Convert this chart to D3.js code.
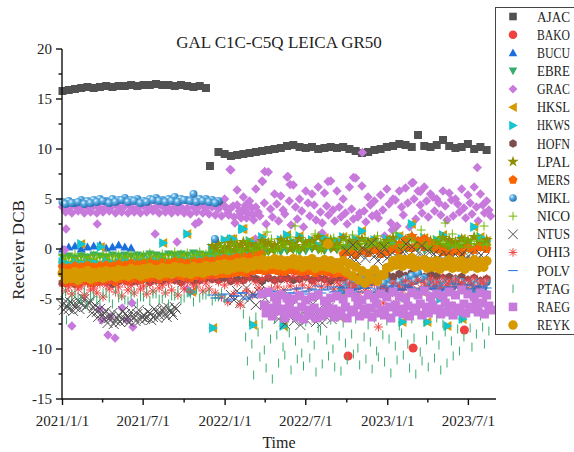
<!DOCTYPE html>
<html>
<head>
<meta charset="utf-8">
<script src="https://d3js.org/d3.v7.min.js"></script>
<style>
  body { margin: 0; background: #fff; }
  text { font-family: "Liberation Serif", "DejaVu Serif", serif; fill: #222; }
</style>
</head>
<body>
<script>
// station names, legend order = drawing order
const STATIONS = ["AJAC","BAKO","BUCU","EBRE","GRAC","HKSL","HKWS","HOFN","LPAL","MERS","MIKL","NICO","NTUS","OHI3","POLV","PTAG","RAEG","REYK"];
const COLORS = ["#515151","#f14040","#1a6fdf","#37ad6b","#c879dc","#d69a00","#14c6d2","#7d4e4e","#8e8e00","#fb6501","#3b98d6","#6fb802","#515151","#f14040","#1a6fdf","#37ad6b","#c879dc","#d69a00"];
const SHAPES = ["square","circle","up","down","diamond","left","right","hexagon","star","pentagon","ball","plus","cross","asterisk","hline","vline","square","circle"];
const SIZES  = [4, 4.5, 4.5, 4.5, 4.7, 5, 5, 4.5, 5.5, 5, 4, 4.5, 5, 4.5, 5, 4.5, 4.5, 5];

const X_TICKS = ["2021-01-01","2021-07-01","2022-01-01","2022-07-01","2023-01-01","2023-07-01"];
const X_MINOR = ["2021-04-01","2021-10-01","2022-04-01","2022-10-01","2023-04-01"];
const Y_TICKS = [-15,-10,-5,0,5,10,15,20];

// DCB values (ns), regular steps from a start date
const AJAC_1 = [15.8,15.9,16.0,16.1,16.2,16.1,16.2,16.3,16.2,16.3,16.3,16.4,16.3,16.4,16.4,16.5,16.4,16.4,16.3,16.4,16.3,16.2,16.3,16.1];
const AJAC_2 = [9.7,9.5,9.3,9.4,9.5,9.6,9.7,9.8,9.9,10.0,10.1,10.3,10.4,10.2,10.1,10.2,10.0,10.1,10.2,10.1,10.2,10.0,9.8,9.6,9.7,9.9,10.0,10.2,10.3,10.5,10.4,10.2,11.4,10.3,10.2,10.4,10.9,10.3,10.1,10.2,10.5,10.0,10.2,9.9];
const BUCU_1 = [0.0,0.2,0.3,0.0,0.2,0.3,0.4,0.1,0.2,0.4,0.2,0.1];
const EBRE_1 = [-0.8,-0.7,-0.9,-0.7,-0.8,-0.6,-0.7,-0.8,-0.6,-0.7,-0.6,-0.7,-0.6,-0.7,-0.5,-0.6,-0.7,-0.5,-0.6,-0.5,-0.6,-0.4,-0.5,-0.6,-0.5,-0.4,-0.5,-0.3,-0.4,-0.5,-0.3,-0.2,-0.4,-0.3,-0.2,-0.3,-0.2,-0.1,-0.3,-0.2,0.0,-0.1,-0.2,0.0,-0.1,0.1,-0.1,0.0,-0.2,-0.1,0.0,0.1,-0.1,0.0,0.2,0.1,0.0,0.1,-0.1,0.0,0.1,0.2,0.0,0.1,0.2,0.1,0.0,0.2,0.1];
const GRAC_1A = [4.2,4.1,4.3,4.2,4.2,4.3,4.1,4.2,4.3,4.2,4.3,4.2,4.1,4.3,4.2,4.2,4.3,4.1,4.2,4.2,4.1,4.2,4.3,4.1,4.2,4.0,4.3,4.1,4.4,4.0,4.3,4.2];
const GRAC_1B = [3.7,3.6,3.8,3.6,3.7,3.6,3.7,3.8,3.6,3.7,3.6,3.7,3.6,3.7,3.8,3.6,3.7,3.6,3.7,3.6,3.5,3.7,3.6,3.5,3.4,3.3,3.6,3.2,3.5,3.1,3.4];
const GRAC_HI = [5.0,7.9,5.9,5.2,4.8,6.0,6.8,7.7,5.5,5.3,7.2,6.4,5.0,5.8,5.5,6.2,5.6,6.8,5.8,5.0,6.2,7.1,6.3,5.2,4.8,5.4,6.0,5.0,5.8,6.1,6.6,5.8,6.2,5.5,5.0,5.8,5.6,5.0,6.0,5.4,6.2,5.5,4.8];
const GRAC_MID = [4.0,4.3,3.8,4.4,4.1,3.7,4.6,4.0,4.5,3.9,4.8,4.2,3.8,4.6,4.4,3.7,4.3,3.9,4.2,3.6,4.0,3.2,3.8,4.4,3.5,3.9,4.5,4.9,4.2,4.6,5.0,4.4,4.8,5.2,4.6,4.3,4.9,4.5,4.1,4.6,4.2,4.4,3.9];
const GRAC_LO = [3.4,2.6,3.1,3.6,2.9,3.3,2.5,3.2,2.8,3.5,2.4,3.0,2.2,3.3,2.9,2.6,3.4,2.8,3.2,2.5,3.0,3.6,2.7,3.3,3.1,1.3,2.6,2.3,3.4,2.2,3.0,3.6,3.2,3.8,3.4,2.9,3.3,3.7,3.1,3.5,2.8,3.6,3.3];
const HKWS_1A = [-1.3,-1.5,-1.2,-1.4,-1.1,-1.3,-1.5,-1.2,-1.4,-1.3,-1.1,-1.4,-1.2,-1.3,-1.1,-1.2,-1.0,-1.3,-1.1,-0.9,-1.2,-1.0,-0.8,-1.1,-0.9,-0.7,-0.6,-0.8,-0.5,-0.7,-0.4,-0.6];
const HKWS_1B = [-1.8,-1.7,-1.9,-1.6,-1.8,-1.7,-1.9,-1.6,-1.8,-1.7,-1.6,-1.8,-1.7,-1.5,-1.7,-1.6,-1.4,-1.6,-1.5,-1.3,-1.5,-1.4,-1.2,-1.4,-1.3,-1.1,-1.2,-1.0,-1.1,-0.9,-1.0];
const HKWS_HI = [0.9,1.0,0.3,2.0,0.8,0.4,1.2,0.5,0.2,0.9,1.4,0.7,1.3,0.6,0.9,0.4,1.1,0.6,0.8,1.2,0.5,1.0,1.8,0.6,0.9,0.3,1.0,0.5,1.3,0.7,2.5,0.8,1.1,0.4,0.9,1.4,0.6,0.5,1.0,0.7,2.2,1.2,0.8];
const HOFN_1 = [-3.4,-3.2,-3.5,-3.3,-3.1,-3.4,-3.2,-3.3,-3.5,-3.2,-3.1,-3.3,-3.2,-3.0,-3.3,-3.1,-3.2,-3.0,-3.1,-3.3,-3.0,-3.2,-3.1,-2.9,-3.0,-3.1,-2.9,-3.2,-3.0,-3.1,-2.8,-3.0,-3.2,-2.9,-3.1,-3.0,-2.9,-3.1,-3.0,-2.8,-3.1,-2.9,-3.0,-3.2,-2.9,-3.0,-3.1,-2.8,-3.0,-2.9,-3.1,-2.8,-2.6,-2.8,-2.5,-2.7,-2.4,-2.6,-2.8,-2.5,-2.7,-2.9,-2.8,-3.0,-2.8,-3.1,-2.9,-3.2,-3.0];
const LPAL_A = [0.3,0.5,0.2,0.6,0.4,0.7,0.5,0.3,0.8,0.6,0.4,0.9,0.7,0.5,1.0,0.6,0.8,1.2,0.7,0.9,0.5,1.1,0.8,0.6,1.0,0.7,0.9,0.5,0.8,1.1,0.6,0.9,1.3,0.7,1.0,0.8,0.6,1.1,0.9,0.7,1.0,0.8,1.2,0.6,0.9];
const LPAL_B = [0.0,-0.2,0.1,-0.1,0.2,0.0,-0.3,0.1,0.3,-0.1,0.2,0.4,0.0,0.3,0.1,0.5,0.2,0.0,0.4,0.1,0.3,-0.1,0.2,0.4,0.0,0.3,0.1,0.5,0.2,0.0,0.4,0.1,0.3,0.6,0.2,0.0,0.4,0.2,0.5,0.1,0.3,0.0,0.4,0.2];
const MERS_A = [-1.8,-1.9,-1.7,-1.8,-1.6,-1.8,-1.7,-1.6,-1.7,-1.5,-1.6,-1.4,-1.5,-1.4,-1.3,-1.5,-1.3,-1.4,-1.2,-1.3,-1.4,-1.2,-1.3,-1.1,-1.2,-1.0,-0.9,-1.0,-0.8,-0.7,-0.8,-0.6,-0.5];
const MERS_B = [-3.4,-3.3,-3.5,-3.2,-3.4,-3.3,-3.2,-3.1,-3.3,-3.0,-3.2,-3.0,-3.1,-2.9,-2.9,-3.0,-2.8,-2.9,-2.7,-2.8,-2.9,-2.7,-2.8,-2.6,-2.6,-2.5,-2.5,-2.4,-2.3,-2.4,-2.2,-2.1,-2.2,-2.1,-2.2,-2.3,-2.1,-2.2,-2.3,-2.2,-2.4,-2.2,-2.3,-2.5,-2.4,-2.6,-2.8];
const MERS_C = [-0.5,-0.3,-0.6,-0.2,-0.4,-0.1,-0.5,-0.3,0.0,-0.2,0.3,0.1,0.5,0.2,0.6,0.0,-0.3,-0.5,-0.2,-0.4,0.1,-0.1,0.2,0.0];
const MIKL_1A = [4.7,4.8,4.6,4.9,4.8,4.9,5.0,4.8,5.0,4.9,5.1,4.9,5.0,4.8,5.0,5.1,4.9,5.0,5.2,5.0,4.9,5.5,5.0,5.0,4.9,4.8];
const MIKL_1B = [4.5,4.6,4.7,4.5,4.6,4.7,4.8,4.6,4.7,4.9,4.7,4.8,4.6,4.7,4.9,4.8,4.7,4.8,4.7,4.9,4.8,4.7,4.8,4.7,4.6];
const MIKL_2A = [-3.6,-3.4,-3.2,-3.0,-2.7,-2.4,-2.8,-3.2,-3.5,-3.3,-3.0,-2.7,-2.4,-2.9,-3.3,-3.5,-3.2,-3.4,-3.1,-3.3,-3.5,-3.2,-3.4,-3.3];
const MIKL_2B = [-4.0,-3.8,-3.7,-3.5,-3.3,-3.0,-3.4,-3.7,-3.9,-3.8,-3.5,-3.2,-3.0,-3.4,-3.8,-3.9,-3.7,-3.8,-3.6,-3.8,-3.9,-3.7,-3.8];
const NICO_A = [-0.6,-0.8,-0.5,-0.7,-0.9,-0.6,-0.8,-0.5,-0.7,-0.6,-0.8,-0.5,-0.7,-0.6,-0.4,-0.7,-0.5,-0.6,-0.3,-0.5,-0.4,-0.6,-0.3,-0.5,-0.2,-0.4,-0.1,-0.3,0.0,-0.2,0.1,-0.1,0.2,0.0,-0.2,0.3,0.1,0.4,0.0,0.2,0.5,0.1,0.3,0.6,0.2,0.4,0.0,0.3,0.5,0.2,0.4,0.7,0.3,0.5,0.1,0.4,0.8,0.3,0.6,0.2,0.5,0.7,0.3,0.4,0.6,0.2,0.5,0.8,0.4];
const NICO_B = [-1.0,-0.9,-1.1,-0.8,-1.0,-0.9,-0.7,-1.0,-0.8,-0.9,-0.7,-0.9,-0.8,-1.0,-0.7,-0.8,-0.9,-0.6,-0.8,-0.7,-0.9,-0.6,-0.7,-0.5,-0.6,0.3,-0.4,0.5,-0.3,0.8,-0.2,0.4,-0.5,1.0,-0.1,0.6,1.2,-0.2,0.9,0.3,1.5,-0.1,0.7,1.1,0.2,0.9,1.4,0.0,1.0,0.6,1.3,0.2,0.8,1.6,0.4,1.1,0.7,1.9,0.3,0.9,1.2,0.5,1.5,0.2,1.0,0.8,1.3,0.4];
const NTUS_1A = [-5.6,-5.2,-6.0,-5.4,-5.8,-5.1,-5.5,-5.0,-5.6,-5.2,-5.9,-6.3,-6.0,-6.6,-6.2,-6.9,-6.4,-7.2,-6.6,-7.0,-6.5,-6.8,-6.3,-6.9,-6.5,-7.1,-6.6,-6.9,-6.4,-6.8,-6.2,-6.6,-6.1,-6.5,-5.9,-6.3,-5.8];
const NTUS_1B = [-6.1,-5.7,-5.3,-6.2,-5.5,-6.0,-4.9,-5.8,-5.3,-6.4,-5.6,-6.8,-6.5,-7.0,-7.4,-6.8,-7.5,-6.9,-7.3,-6.2,-7.1,-7.3,-6.7,-7.2,-6.1,-6.8,-7.0,-6.3,-7.1,-6.0,-6.9,-6.4,-5.9,-6.8,-6.2,-6.6,-6.0];
const NTUS_2 = [-4.6,-5.1,-4.2,-5.4,-4.8,-3.9,-5.0,-4.5,-5.6,-4.3,-3.6,-4.9];
const NTUS_3 = [-7.0,-6.2,-7.5,-6.6,-5.8,-7.2,-6.8,-7.6,-6.4,-7.1,-6.9,-5.5,-7.3,-6.0,-7.4,-6.7,-5.9,-7.0];
const NTUS_4 = [-0.2,-0.8,0.4,-1.1,-0.5,0.1,-0.9,-0.3,0.6,-0.7,-1.2,-0.4,0.2,-0.9,-0.6,-1.3,-0.8,-1.0,-0.3,0.5,-0.6,0.2,-1.0,-0.4,0.3,-0.8,-0.2,-1.1,-0.5,-0.9,-0.7,-1.2,-0.6,-1.0,-0.8,-1.3,-0.9,-0.5,-1.1,-0.7,-1.2,-0.8,-1.0,-0.6,-0.9];
const OHI3_A = [-3.5,-3.8,-3.3,-3.7,-3.4,-3.9,-3.5,-3.6,-3.2,-3.8,-3.4,-3.6,-3.3,-3.7,-3.5,-3.2,-3.6,-3.4,-3.1,-3.5,-3.3,-3.6,-3.2,-3.4,-3.0,-3.3,-3.6,-3.1,-3.4,-3.2,-2.9,-3.3,-3.0,-2.8,-3.2,-2.9,-3.1,-2.7,-3.0,-2.8,-3.2,-2.9,-3.1,-2.8,-3.3,-3.0,-3.4,-3.6,-3.2,-3.8,-3.5,-3.9,-4.1,-3.4,-3.7,-3.2,-3.5,-3.1,-3.4,-3.0,-3.3,-2.9,-3.2,-3.0,-3.4,-3.1,-2.9,-3.2,-3.0];
const OHI3_B = [-4.2,-4.5,-4.0,-4.6,-4.1,-4.4,-4.8,-4.0,-4.3,-4.7,-4.1,-4.4,-4.0,-4.5,-4.2,-3.9,-4.4,-4.1,-4.6,-4.0,-4.3,-3.8,-4.2,-4.0,-4.4,-4.8,-5.3,-4.5,-5.6,-4.2,-4.6,-3.9,-4.3,-4.0,-3.8,-4.1,-3.7,-4.0,-3.6,-3.9,-3.5,-3.8,-3.6,-4.0,-3.7,-4.1,-3.9,-4.4,-4.2,-4.6,-4.3,-4.0,-4.5,-5.4,-4.1,-3.8,-4.2,-3.9,-4.0,-3.7,-3.9,-3.6,-3.8,-3.5,-3.9,-3.6,-3.8,-3.5];
const POLV_A = [-4.6,-4.9,-4.5,-5.0,-4.7,-4.4,-4.8,-4.5,-4.3,-4.6,-4.2,-4.5,-4.1,-4.4,-3.9,-4.2,-4.0,-3.7,-4.1,-3.8,-4.2,-3.9,-4.3,-4.0,-3.6,-3.9,-4.2,-3.8,-4.1,-3.7,-4.0,-3.6,-3.9,-4.2,-3.8,-4.0,-3.7,-4.1,-3.8,-3.5,-3.9,-3.6,-4.0,-3.7,-3.9];
const POLV_B = [-4.9,-4.6,-5.2,-4.7,-4.4,-5.0,-4.6,-4.8,-4.4,-4.7,-4.3,-4.6,-4.4,-4.0,-4.3,-4.5,-4.1,-4.4,-4.0,-4.3,-3.8,-4.4,-4.1,-4.3,-3.9,-4.4,-4.0,-4.3,-3.9,-4.5,-4.1,-3.8,-4.3,-4.0,-4.4,-3.9,-4.2,-4.0,-4.3,-3.8,-4.1,-4.3,-3.8,-4.2];
const PTAG_1A = [-4.8,-5.3,-4.5,-5.0,-5.6,-4.7,-5.2,-4.4,-5.5,-4.9,-5.1,-4.6,-5.4,-4.8,-5.2,-4.5,-5.0,-5.5,-4.7,-5.1,-4.4,-5.3,-4.9,-4.6,-5.2,-4.8,-5.0];
const PTAG_1B = [-4.3,-4.6,-5.0,-4.2,-4.7,-5.1,-4.4,-4.9,-4.2,-4.6,-5.2,-4.3,-4.8,-4.1,-4.5,-5.0,-4.4,-4.7,-4.2,-4.9,-4.5,-4.1,-4.6,-4.3,-4.8,-4.4];
const PTAG_2A = [-6.5,-7.2,-6.8,-7.5,-6.3,-7.0,-6.6,-7.8,-6.9,-6.4,-7.3,-6.7,-7.9,-6.2,-7.1,-6.8,-7.4,-6.5,-7.0,-6.3,-7.6,-6.9,-6.6,-7.2,-6.4,-7.7,-6.8,-7.0,-6.5,-7.3,-6.1,-6.9,-7.5,-6.6,-6.2,-7.0,-6.4,-6.0,-6.7,-6.3];
const PTAG_2B = [-8.8,-9.5,-8.3,-10.1,-9.0,-8.6,-9.8,-8.4,-9.2,-10.4,-8.9,-9.6,-8.2,-9.1,-10.0,-8.7,-9.4,-8.5,-9.9,-8.8,-9.3,-10.2,-8.6,-9.0,-9.7,-8.4,-9.5,-8.9,-10.3,-9.1,-8.7,-9.6,-8.3,-9.2,-8.0,-8.8,-7.9,-8.5,-7.8,-8.2];
const PTAG_2C = [-11.2,-12.6,-10.8,-11.9,-13.0,-11.4,-10.6,-12.1,-11.0,-11.7,-10.9,-12.3,-11.5,-10.7,-11.8,-12.2,-11.1,-10.5,-11.6,-11.0,-12.0,-10.8,-11.3,-12.4,-11.1,-10.6,-11.9,-12.5,-11.2,-11.8,-10.9,-12.1,-11.4,-10.7,-10.2,null,-9.8,null,-9.5,null];
const RAEG_A = [-4.5,-4.3,-4.8,-4.6,-4.9,-5.0,-4.7,-5.1,-4.8,-4.6,-5.2,-4.9,-4.7,-5.0,-4.4,-4.8,-5.1,-4.6,-4.9,-4.5,-4.8,-4.3,-4.7,-4.9,-4.4,-4.6,-4.2,-4.8,-4.5,-4.7,-4.3,-4.6,-4.1,-4.5,-4.8,-4.4,-4.6];
const RAEG_B = [-5.6,-5.9,-5.4,-6.0,-5.7,-6.2,-5.8,-6.1,-5.9,-6.3,-5.7,-6.0,-6.2,-5.8,-6.1,-5.6,-6.0,-5.9,-5.5,-6.1,-5.8,-5.6,-6.0,-5.7,-5.9,-5.5,-5.8,-5.6,-6.0,-5.4,-5.7,-5.9,-5.5,-5.8,-5.6,-5.4,-5.7];
const RAEG_C = [-6.4,-6.7,-6.2,-6.9,-6.5,-6.8,-7.0,-6.6,-6.9,-6.7,-6.4,-6.8,-6.6,-6.9,-6.3,-6.7,-6.5,-6.8,-6.4,-6.6,-6.9,-6.3,-6.5,-6.7,-6.2,-6.6,-6.4,-6.1,-6.5,-6.3,-6.6,-6.2,-6.4,-6.0,-6.3,-6.5,-6.1];
const REYK_A = [-2.4,-2.5,-2.3,-2.4,-2.2,-2.4,-2.3,-2.2,-2.3,-2.1,-2.2,-2.0,-2.1,-2.0,-1.9,-2.1,-1.9,-2.0,-1.8,-1.9,-2.0,-1.8,-1.9,-1.7,-1.8,-1.6,-1.5,-1.6,-1.4,-1.3,-1.4,-1.2,-1.1,-1.2,-1.0,-1.1,-1.2,-1.0,-1.1,-1.2,-1.0,-1.3,-1.1,-1.2,-1.4,-1.2,-1.5,-1.8,-2.2,-2.5,-2.1,-2.6,-1.9,-1.2,-1.0,-1.1,-0.9,-1.2,-1.1,-1.3,-1.2,-1.4,-1.1,-1.3,-1.2,-1.4,-1.1,-1.3,-1.2];
const REYK_B = [-3.0,-2.9,-3.1,-2.8,-3.0,-2.8,-2.9,-2.7,-2.8,-2.6,-2.7,-2.5,-2.7,-2.5,-2.4,-2.6,-2.4,-2.5,-2.3,-2.4,-2.5,-2.3,-2.4,-2.2,-2.2,-2.0,-2.1,-1.9,-1.8,-1.9,-1.7,-1.6,-1.7,-1.5,-1.6,-1.7,-1.5,-1.6,-1.8,-1.6,-1.9,-1.7,-1.8,-2.0,-1.9,-2.3,-2.7,-3.1,-3.4,-3.0,-3.2,-2.6,-1.8,-1.6,-1.7,-1.5,-1.8,-1.6,-1.9,-1.8,-2.0,-1.7,-1.9,-1.8,-2.0,-1.7,-1.9,-1.8];

// single points [date, value]
const AJAC_PTS = [["2021-11-28",8.3],["2021-12-21",4.6]];
const BAKO_PTS = [["2022-10-04",-10.7],["2023-02-27",-9.9],["2023-06-22",-8.1]];
const GRAC_PTS = [["2021-01-09",2.0],["2021-01-06",-0.1],["2021-01-22",-7.7],["2021-03-20",2.5],["2021-03-26",-6.0],["2021-03-30",-7.1],["2021-04-13",-8.6],["2021-04-18",-6.8],["2021-04-29",-8.9],["2021-05-15",-5.9],["2021-05-26",-7.1],["2021-06-06",-5.4],["2021-06-08",-7.8],["2021-07-28",1.5],["2021-09-15",0.7],["2021-10-08",-4.0],["2021-10-26",2.5],["2021-11-03",2.7],
  ["2022-01-12",7.95],["2022-03-31",7.75],["2022-05-22",7.25],["2022-11-05",9.65],["2023-07-21",8.15],["2022-10-16",7.15],["2022-08-20",6.75],["2022-05-27",6.45],["2022-03-26",6.75],["2023-02-27",6.65],["2023-03-15",5.75],["2022-03-10",1.0],["2022-08-07",1.6],["2023-01-11",1.9]];
const HKWS_PTS = [["2021-02-12",0.5],["2021-03-28",0.2],["2021-08-15",0.6],["2021-10-08",1.5],["2021-12-03",0.1],["2022-01-19",1.0],["2022-02-08",2.0],
  ["2021-10-19",-4.3],["2021-12-05",-7.9],["2022-03-05",-7.6],["2022-05-12",-7.7],["2022-07-16",-4.8],["2022-09-16",-6.8],["2022-09-20",-4.3],["2023-02-03",-7.3],["2023-02-06",-4.8],["2023-03-20",-4.3],["2023-03-31",-7.3],["2023-04-29",-5.0],["2023-05-15",-7.7],["2023-05-18",-5.7],["2023-06-18",-7.0],["2023-07-10",-4.3]];
const MERS_PTS = [["2023-01-27",0.4],["2023-02-10",0.9],["2023-02-24",1.2],["2023-03-10",0.8],["2023-03-24",1.0],["2023-04-07",0.6]];
const MIKL_PTS = [["2021-12-09",1.0]];
const NICO_PTS = [["2022-04-05",1.7],["2022-06-07",2.3],["2023-05-10",2.6],["2023-08-05",2.3]];
const OHI3_PTS = [["2022-12-22",-5.4],["2022-12-11",-7.8]];
const PTAG_PTS = [["2021-01-10",-7.1]];
const REYK_PTS = [["2022-08-20",0.5]];

// [station, first date, step in days, values]
const RUNS = [
  ["AJAC","2021-01-01",14,AJAC_1],["AJAC","2021-12-17",14,AJAC_2],
  ["BUCU","2021-01-01",14,BUCU_1],
  ["EBRE","2021-01-01",14,EBRE_1],
  ["GRAC","2021-01-01",14,GRAC_1A],["GRAC","2021-01-08",14,GRAC_1B],
  ["GRAC","2021-12-31",14,GRAC_HI],["GRAC","2022-01-05",14,GRAC_MID],["GRAC","2022-01-09",14,GRAC_LO],
  ["HKSL","2021-01-01",14,HKWS_1A],["HKSL","2021-01-08",14,HKWS_1B],["HKSL","2021-12-31",14,HKWS_HI],
  ["HKWS","2021-01-01",14,HKWS_1A],["HKWS","2021-01-08",14,HKWS_1B],["HKWS","2021-12-31",14,HKWS_HI],
  ["HOFN","2021-01-01",14,HOFN_1],
  ["LPAL","2021-12-03",14,LPAL_A],["LPAL","2021-12-10",14,LPAL_B],
  ["MERS","2021-01-01",14,MERS_A],["MERS","2021-01-08",14,MERS_B],["MERS","2022-09-23",14,MERS_C],
  ["MIKL","2021-01-01",14,MIKL_1A],["MIKL","2021-01-08",14,MIKL_1B],["MIKL","2022-09-23",14,MIKL_2A],["MIKL","2022-09-30",14,MIKL_2B],
  ["NICO","2021-01-01",14,NICO_A],["NICO","2021-01-08",14,NICO_B],
  ["NTUS","2021-01-01",7,NTUS_1A],["NTUS","2021-01-04",7,NTUS_1B],["NTUS","2022-01-14",7,NTUS_2],["NTUS","2022-05-01",7,NTUS_3],["NTUS","2022-10-01",7,NTUS_4],
  ["OHI3","2021-01-01",14,OHI3_A],["OHI3","2021-01-08",14,OHI3_B],
  ["POLV","2021-12-03",14,POLV_A],["POLV","2021-12-10",14,POLV_B],
  ["PTAG","2021-01-01",14,PTAG_1A],["PTAG","2021-01-08",14,PTAG_1B],
  ["PTAG","2022-02-11",14,PTAG_2A],["PTAG","2022-02-16",14,PTAG_2B],["PTAG","2022-02-20",14,PTAG_2C],
  ["RAEG","2022-03-25",14,RAEG_A],["RAEG","2022-03-30",14,RAEG_B],["RAEG","2022-04-03",14,RAEG_C],
  ["REYK","2021-01-01",14,REYK_A],["REYK","2021-01-08",14,REYK_B]
];
const SINGLES = {AJAC: AJAC_PTS, BAKO: BAKO_PTS, GRAC: GRAC_PTS, HKSL: HKWS_PTS, HKWS: HKWS_PTS, MERS: MERS_PTS,
  MIKL: MIKL_PTS, NICO: NICO_PTS, OHI3: OHI3_PTS, PTAG: PTAG_PTS, REYK: REYK_PTS};

const parse = d3.timeParse("%Y-%m-%d");
const W = 574, H = 452;
const svg = d3.select("body").append("svg").attr("width", W).attr("height", H);

const defs = svg.append("defs");
const grad = defs.append("radialGradient").attr("id", "ball").attr("cx", "35%").attr("cy", "32%").attr("r", "70%");
grad.append("stop").attr("offset", "0%").attr("stop-color", "#eaf6ff");
grad.append("stop").attr("offset", "35%").attr("stop-color", "#5fb1e6");
grad.append("stop").attr("offset", "100%").attr("stop-color", "#1f6fae");

const x = d3.scaleTime().domain([parse("2021-01-01"), parse("2023-09-01")]).range([62.5, 496]);
const y = d3.scaleLinear().domain([-15, 20]).range([399, 49]);

function poly(pts) { return "M" + pts.map(p => p[0].toFixed(2) + "," + p[1].toFixed(2)).join("L") + "Z"; }
function ngon(n, r, a0) {
  return poly(d3.range(n).map(k => [r * Math.cos(a0 + 2 * Math.PI * k / n), r * Math.sin(a0 + 2 * Math.PI * k / n)]));
}
function shapePath(kind, r) {
  switch (kind) {
    case "square": return poly([[-r,-r],[r,-r],[r,r],[-r,r]]);
    case "circle": case "ball": return d3.symbol(d3.symbolCircle, Math.PI * r * r)();
    case "up": return poly([[0,-r],[r,0.8*r],[-r,0.8*r]]);
    case "down": return poly([[0,r],[r,-0.8*r],[-r,-0.8*r]]);
    case "left": return poly([[-r,0],[0.8*r,-r],[0.8*r,r]]);
    case "right": return poly([[r,0],[-0.8*r,-r],[-0.8*r,r]]);
    case "diamond": return poly([[0,-r],[r,0],[0,r],[-r,0]]);
    case "hexagon": return ngon(6, r, Math.PI / 6);
    case "pentagon": return ngon(5, r, -Math.PI / 2);
    case "star": return d3.symbol(d3.symbolStar, r * r * 1.5)();
    case "plus": return `M${-r},0H${r}M0,${-r}V${r}`;
    case "cross": return `M${-r},${-r}L${r},${r}M${r},${-r}L${-r},${r}`;
    case "asterisk": { const d = r * 0.72; return `M${-r},0H${r}M0,${-r}V${r}M${-d},${-d}L${d},${d}M${d},${-d}L${-d},${d}`; }
    case "hline": return `M${-r},0H${r}`;
    case "vline": return `M0,${-r}V${r}`;
  }
}
const LINE_KINDS = new Set(["plus","cross","asterisk","hline","vline"]);
function styleMark(sel, i) {
  const kind = SHAPES[i];
  if (LINE_KINDS.has(kind)) sel.attr("fill", "none").attr("stroke", COLORS[i]).attr("stroke-width", 1);
  else if (kind === "ball") sel.attr("fill", "url(#ball)").attr("stroke", "none");
  else sel.attr("fill", COLORS[i]).attr("stroke", "none");
}

// points per station
const byStation = new Map(STATIONS.map(s => [s, []]));
RUNS.forEach(([st, d0, step, vals]) => {
  const t0 = parse(d0);
  vals.forEach((v, k) => { if (v != null) byStation.get(st).push({t: d3.timeDay.offset(t0, k * step), v}); });
});
Object.entries(SINGLES).forEach(([st, pts]) => pts.forEach(([d, v]) => byStation.get(st).push({t: parse(d), v})));

const plot = svg.append("g");
STATIONS.forEach((st, i) => {
  const d = shapePath(SHAPES[i], SIZES[i]);
  plot.append("g").selectAll("path").data(byStation.get(st)).join("path")
    .attr("d", d)
    .attr("transform", p => `translate(${x(p.t).toFixed(2)},${y(p.v).toFixed(2)})`)
    .call(styleMark, i);
});

// axes
const axisG = svg.append("g").attr("stroke", "#111").attr("stroke-width", 1.4);
axisG.append("line").attr("x1", 62).attr("x2", 496).attr("y1", 399).attr("y2", 399);
axisG.append("line").attr("x1", 62).attr("x2", 62).attr("y1", 49).attr("y2", 399.7);
X_TICKS.forEach(d => axisG.append("line").attr("x1", x(parse(d))).attr("x2", x(parse(d))).attr("y1", 399).attr("y2", 405));
X_MINOR.forEach(d => axisG.append("line").attr("x1", x(parse(d))).attr("x2", x(parse(d))).attr("y1", 399).attr("y2", 402.5));
Y_TICKS.forEach(v => axisG.append("line").attr("x1", 56).attr("x2", 62).attr("y1", y(v)).attr("y2", y(v)));
d3.range(-12.5, 20, 5).forEach(v => axisG.append("line").attr("x1", 58.5).attr("x2", 62).attr("y1", y(v)).attr("y2", y(v)));

const fmt = d3.timeFormat("%Y/%-m/%-d");
svg.append("g").selectAll("text").data(X_TICKS).join("text")
  .attr("x", d => x(parse(d))).attr("y", 426).attr("text-anchor", "middle")
  .attr("font-size", 15).text(d => fmt(parse(d)));
svg.append("g").selectAll("text").data(Y_TICKS).join("text")
  .attr("x", 52).attr("y", v => y(v) + 5).attr("text-anchor", "end")
  .attr("font-size", 15).text(v => v);

svg.append("text").attr("x", 279).attr("y", 448).attr("text-anchor", "middle").attr("font-size", 16).text("Time");
svg.append("text").attr("transform", "translate(24,250) rotate(-90)").attr("text-anchor", "middle")
  .attr("font-size", 17).text("Receiver DCB");
svg.append("text").attr("x", 279).attr("y", 48).attr("text-anchor", "middle").attr("font-size", 17)
  .text("GAL C1C-C5Q LEICA GR50");

// legend; labels squeezed horizontally to the narrow width of the original font
const leg = svg.append("g");
leg.append("rect").attr("x", 495.5).attr("y", 7.5).attr("width", 90).attr("height", 327)
  .attr("fill", "#fff").attr("stroke", "#444").attr("stroke-width", 1);
STATIONS.forEach((st, i) => {
  const cy = 16.5 + 18.15 * i;
  leg.append("path").attr("d", shapePath(SHAPES[i], SIZES[i] * 0.95))
    .attr("transform", `translate(513,${cy})`).call(styleMark, i);
  const t = leg.append("text").attr("font-size", 15).text(st);
  const w = t.node().getComputedTextLength();
  t.attr("transform", `translate(537,${cy + 5}) scale(${(33 / w).toFixed(3)},1)`);
});
</script>
</body>
</html>
